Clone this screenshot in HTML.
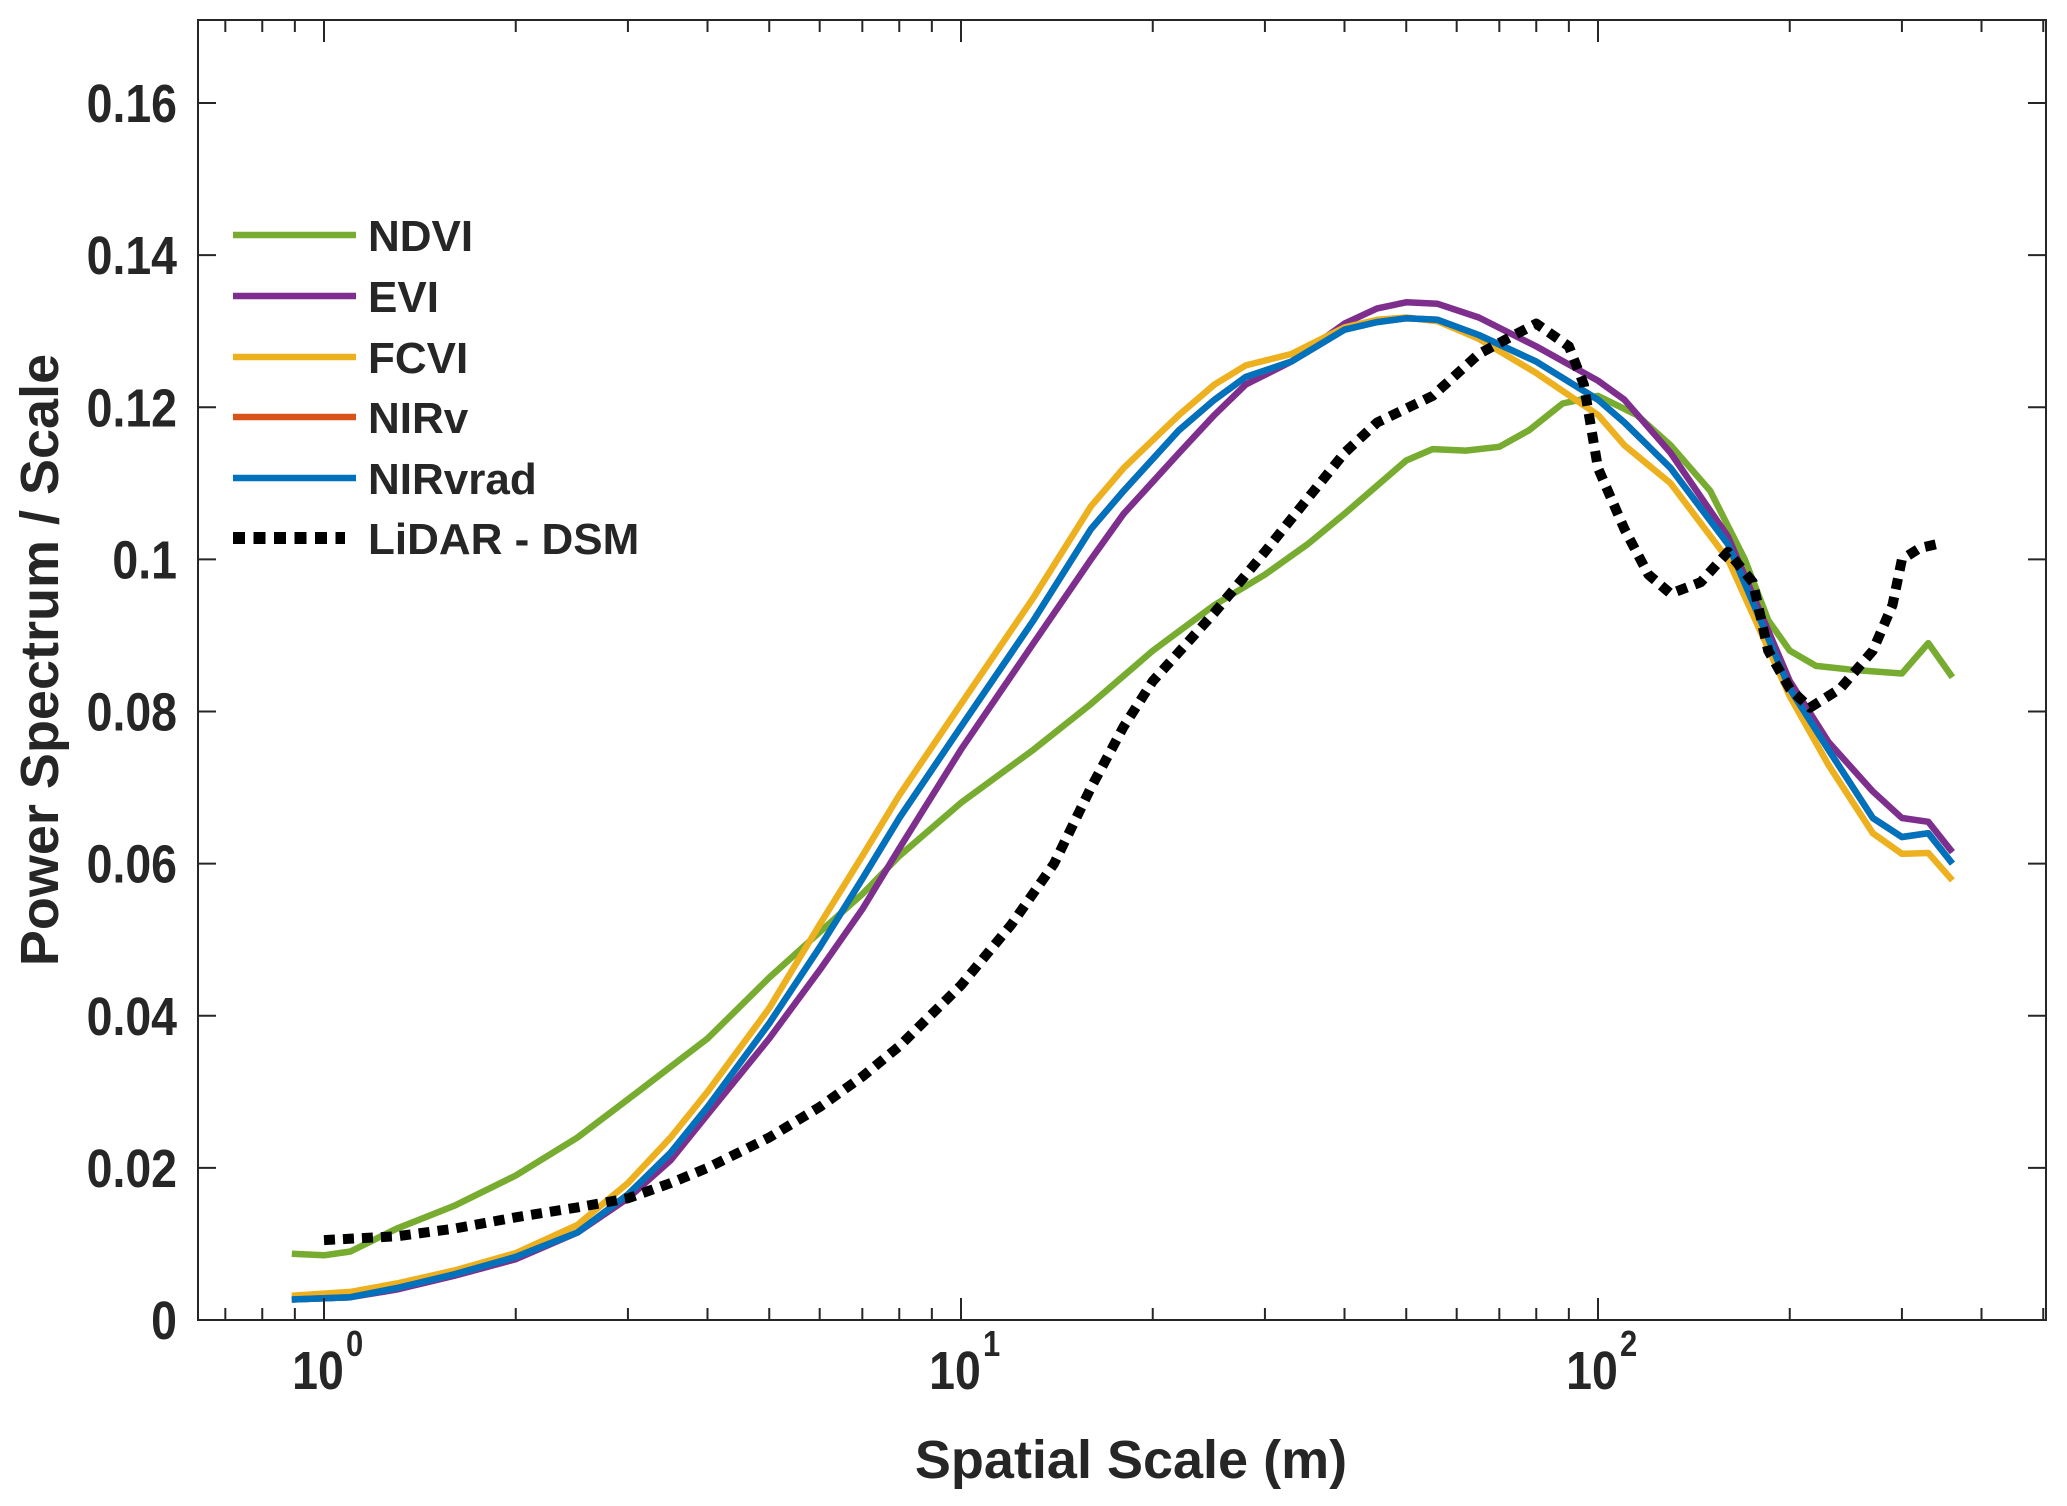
<!DOCTYPE html>
<html><head><meta charset="utf-8"><style>
html,body{margin:0;padding:0;background:#fff}
svg{display:block}
text{font-family:"Liberation Sans",Arial,sans-serif;font-weight:bold;fill:#262626}
</style></head><body>
<svg id="chart" width="2067" height="1506" viewBox="0 0 2067 1506" xmlns="http://www.w3.org/2000/svg">
<rect x="0" y="0" width="2067" height="1506" fill="#fff"/>
<g id="series"></g>
<g id="axes"></g>
<g id="legend"></g>
<text transform="translate(58,660) rotate(-90)" text-anchor="middle" font-size="54">Power Spectrum / Scale</text>
<text x="1131" y="1478" text-anchor="middle" font-size="54">Spatial Scale (m)</text>
</svg>
<script>
const yTicks=[0,0.02,0.04,0.06,0.08,0.1,0.12,0.14,0.16];
const yTickLabels=["0","0.02","0.04","0.06","0.08","0.1","0.12","0.14","0.16"];
const xDecades=[1,10,100];
const xDecadeExps=["0","1","2"];
const seriesNames=["NDVI","EVI","FCVI","NIRv","NIRvrad","LiDAR - DSM"];
const seriesColors=["#77AC30","#7E2F8E","#EDB120","#D95319","#0072BD","#000000"];
const ndviX=[0.89,1.0,1.1,1.3,1.6,2,2.5,3,4,5,6,7,8,10,13,16,20,25,30,35,40,50,55,62,70,78,88,100,115,130,150,170,185,200,220,250,300,330,360];
const ndviY=[0.0087,0.0085,0.009,0.012,0.015,0.019,0.024,0.029,0.037,0.045,0.051,0.056,0.061,0.068,0.075,0.081,0.088,0.094,0.098,0.102,0.106,0.113,0.1145,0.1143,0.1148,0.117,0.1205,0.1215,0.119,0.115,0.109,0.1,0.092,0.088,0.086,0.0855,0.085,0.089,0.0845];
const veX=[0.89,1.1,1.3,1.6,2,2.5,3,3.5,4,5,6,7,8,10,13,16,18,22,25,28,33,40,45,50,56,65,80,100,110,130,160,200,230,270,300,330,360];
const eviY=[0.0027,0.003,0.004,0.0058,0.008,0.0115,0.016,0.021,0.027,0.037,0.046,0.054,0.062,0.075,0.089,0.1,0.106,0.114,0.119,0.123,0.126,0.131,0.133,0.1338,0.1336,0.1318,0.128,0.1235,0.121,0.114,0.103,0.084,0.076,0.0695,0.066,0.0655,0.0615];
const fcviY=[0.0032,0.0037,0.0048,0.0065,0.0088,0.0125,0.018,0.024,0.03,0.041,0.052,0.061,0.069,0.081,0.095,0.107,0.112,0.119,0.123,0.1255,0.127,0.1305,0.1315,0.1318,0.1313,0.129,0.1245,0.119,0.115,0.11,0.1,0.082,0.073,0.064,0.0613,0.0614,0.0578];
const nirvY=[0.0027,0.003,0.0042,0.006,0.0083,0.0115,0.0165,0.022,0.028,0.039,0.049,0.058,0.066,0.078,0.092,0.104,0.109,0.117,0.121,0.124,0.126,0.1302,0.1312,0.1317,0.1315,0.1295,0.126,0.121,0.118,0.112,0.102,0.083,0.075,0.066,0.0635,0.064,0.06];
const nirvradY=[0.0027,0.003,0.0042,0.006,0.0083,0.0115,0.0165,0.022,0.028,0.039,0.049,0.058,0.066,0.078,0.092,0.104,0.109,0.117,0.121,0.124,0.126,0.1302,0.1312,0.1317,0.1315,0.1295,0.126,0.121,0.118,0.112,0.102,0.083,0.075,0.066,0.0635,0.064,0.06];
const lidarX=[1.0,1.3,1.6,2,2.5,3,3.5,4,5,6,7,8,10,12,14,16,18,20,25,30,35,40,45,55,65,72,80,90,95,100,110,120,130,145,160,175,185,200,215,240,270,290,300,320,340];
const lidarY=[0.0105,0.011,0.012,0.0135,0.0148,0.016,0.018,0.02,0.024,0.028,0.032,0.036,0.044,0.052,0.06,0.07,0.078,0.084,0.093,0.101,0.108,0.114,0.118,0.1215,0.127,0.129,0.131,0.128,0.123,0.112,0.104,0.098,0.0955,0.097,0.101,0.097,0.088,0.083,0.0805,0.083,0.088,0.094,0.1,0.1015,0.102];

const L=198,R=2046,T=20,B=1320;
const X0=324,DEC=637;
function xs(v){return X0+Math.log10(v)*DEC;}
function ys(v){return B-v*7606;}
const NS="http://www.w3.org/2000/svg";
function mk(tag,attrs,parent){const e=document.createElementNS(NS,tag);for(const k in attrs)e.setAttribute(k,attrs[k]);parent.appendChild(e);return e;}

const sg=document.getElementById('series');
const data=[[ndviX,ndviY],[veX,eviY],[veX,fcviY],[veX,nirvY],[veX,nirvradY],[lidarX,lidarY]];
[0,1,2,3,4,5].forEach(i=>{
  const [xa,ya]=data[i];
  const d=xa.map((x,j)=>(j?'L':'M')+xs(x).toFixed(1)+' '+ys(ya[j]).toFixed(1)).join(' ');
  const p=mk('path',{d:d,fill:'none',stroke:seriesColors[i],'stroke-width':i==5?10:6.5,'stroke-linejoin':'round'},sg);
  if(i==5)p.setAttribute('stroke-dasharray','11 8');
  
  
});

const ag=document.getElementById('axes');
const box=mk('rect',{x:L,y:T,width:R-L,height:B-T,fill:'none',stroke:'#262626','stroke-width':2},ag);


yTicks.forEach((v,i)=>{
  const y=ys(v);
  mk('line',{x1:L,x2:L+18,y1:y,y2:y,stroke:'#262626','stroke-width':2},ag);
  mk('line',{x1:R,x2:R-18,y1:y,y2:y,stroke:'#262626','stroke-width':2},ag);
  const t=mk('text',{x:0,y:0,'text-anchor':'end','font-size':54,transform:'translate(177,'+(y+19)+') scale(0.86,1)'},ag);
  t.textContent=yTickLabels[i];
  
  
});
for(let dec=0.1;dec<=100;dec*=10){
  for(let m=1;m<=9;m++){
    const v=dec*m;const x=xs(v);
    if(x<L+1||x>R-1)continue;
    const len=(m==1)?22:12;
    mk('line',{x1:x,x2:x,y1:B,y2:B-len,stroke:'#262626','stroke-width':2},ag);
    mk('line',{x1:x,x2:x,y1:T,y2:T+len,stroke:'#262626','stroke-width':2},ag);
  }
}
xDecades.forEach((v,i)=>{
  const x=xs(v);
  const t=mk('text',{x:0,y:0,'text-anchor':'middle','font-size':54,transform:'translate('+(x-6)+',1389) scale(0.86,1)'},ag);
  t.textContent='10';
  
  
  const s=mk('text',{x:0,y:0,'text-anchor':'start','font-size':36,transform:'translate('+(x+22)+',1356) scale(0.86,1)'},ag);
  s.textContent=xDecadeExps[i];
  
  
});

const lg=document.getElementById('legend');
const legY=[235,296,357,417,478,538];
seriesNames.forEach((n,i)=>{
  const g=mk('g',{},lg);
  
  
  const ln=mk('line',{x1:233,x2:i==5?345:356,y1:legY[i],y2:legY[i],stroke:seriesColors[i],'stroke-width':i==5?12:6.5},g);
  if(i==5)ln.setAttribute('stroke-dasharray','12 8.5');
  const t=mk('text',{x:368,y:legY[i]+16,'font-size':44,fill:'#000'},g);
  t.textContent=n;
});
</script>
</body></html>
